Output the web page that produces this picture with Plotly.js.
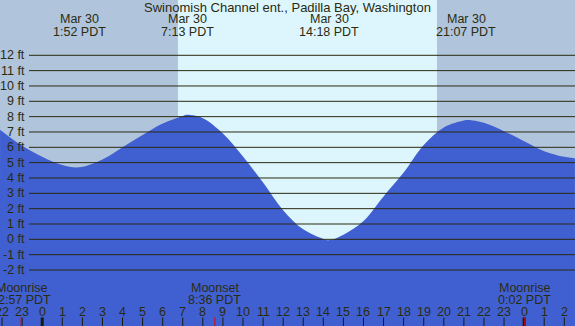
<!DOCTYPE html>
<html><head><meta charset="utf-8">
<script src="https://cdn.plot.ly/plotly-3.0.1.min.js"></script>
<style>html,body{margin:0;padding:0;background:#b0c4dc;}#chart{width:575px;height:326px;}</style>
</head><body><div id="chart"></div>
<script>
// ---- data ----
const stationTitle = "Swinomish Channel ent., Padilla Bay, Washington";
const tideHours = [-2.1, -1, 0, 1, 1.87, 3, 4, 5, 6, 7, 7.22, 8, 9, 10, 11, 12, 13, 14, 14.33, 15, 16, 17, 18, 19, 20, 21, 21.2, 22, 23, 24, 25, 26, 26.53];
const tideFeet  = [7.15, 6.1, 5.39, 4.85, 4.7, 5.2, 6.0, 6.8, 7.55, 8.05, 8.12, 7.9, 6.9, 5.4, 3.7, 1.9, 0.65, 0.03, -0.05, 0.3, 1.2, 2.8, 4.35, 6.15, 7.3, 7.75, 7.78, 7.6, 7.05, 6.4, 5.75, 5.38, 5.28];
const extremeHours = [1.867, 7.217, 14.3, 21.117, 26.583];
const extremeDates = ["Mar 30", "Mar 30", "Mar 30", "Mar 30", "Mar 31"];
const extremeTimes = ["1:52 PDT", "7:13 PDT", "14:18 PDT", "21:07 PDT", "2:35 PDT"];
const moonHours  = [-1.05, 8.6, 24.033];
const moonEvents = ["Moonrise", "Moonset", "Moonrise"];
const moonTimes  = ["22:57 PDT", "8:36 PDT", "0:02 PDT"];
const sunriseHour = 6.76;
const sunsetHour  = 19.66;
const feetLevels = [-2, -1, 0, 1, 2, 3, 4, 5, 6, 7, 8, 9, 10, 11, 12];
const hourTicks = [-2, -1, 0, 1, 2, 3, 4, 5, 6, 7, 8, 9, 10, 11, 12, 13, 14, 15, 16, 17, 18, 19, 20, 21, 22, 23, 24, 25, 26];

// ---- layout / style ----
const W = 575, H = 326;
const xRange = [-2.102, 26.534];
const yRange = [-5.651, 15.606];
const py = p => 1 - p / H;
const FONT = "Liberation Sans, Arial, sans-serif";
const TXT = "#2b2b10";
const NIGHT = "#b0c4dc", DAY = "#ddf6fd", WATER = "#4060d2", LINE = "#2a2a10";

const shapes = [];
const annotations = [];

shapes.push({type: "rect", xref: "x", yref: "paper", x0: sunriseHour, x1: sunsetHour, y0: 0, y1: 1,
  fillcolor: DAY, line: {width: 0}, layer: "below"});

feetLevels.forEach(f => {
  shapes.push({type: "line", xref: "paper", yref: "y", x0: 29 / W, x1: 1, y0: f, y1: f,
    line: {color: LINE, width: 1}, layer: "above"});
  annotations.push({xref: "paper", yref: "y", x: 27 / W, y: f, xanchor: "right", yanchor: "middle",
    text: f + " ft", showarrow: false, font: {family: FONT, size: 12.5, color: TXT}});
});

hourTicks.forEach(h => {
  const hod = ((h % 24) + 24) % 24;
  shapes.push({type: "line", xref: "x", yref: "paper", x0: h, x1: h, y0: 0, y1: 8.5 / H,
    line: {color: "#1a1a08", width: hod === 0 ? 3 : 1}, layer: "above"});
  annotations.push({xref: "x", yref: "paper", x: h, y: py(311.8), xanchor: "center", yanchor: "middle",
    text: String(hod), showarrow: false, font: {family: FONT, size: 12.5, color: TXT}});
});

moonHours.forEach((h, i) => {
  shapes.push({type: "line", xref: "x", yref: "paper", x0: h, x1: h, y0: 0, y1: 8.5 / H,
    line: {color: "#e00000", width: 1}, layer: "above"});
  annotations.push({xref: "x", yref: "paper", x: h, y: py(287.5), xanchor: "center", yanchor: "middle",
    text: moonEvents[i], showarrow: false, font: {family: FONT, size: 12.5, color: TXT}});
  annotations.push({xref: "x", yref: "paper", x: h, y: py(299.5), xanchor: "center", yanchor: "middle",
    text: moonTimes[i], showarrow: false, font: {family: FONT, size: 12.5, color: TXT}});
});

extremeHours.forEach((h, i) => {
  annotations.push({xref: "x", yref: "paper", x: h, y: py(19.5), xanchor: "center", yanchor: "middle",
    text: extremeDates[i], showarrow: false, font: {family: FONT, size: 12.5, color: TXT}});
  annotations.push({xref: "x", yref: "paper", x: h, y: py(31.8), xanchor: "center", yanchor: "middle",
    text: extremeTimes[i], showarrow: false, font: {family: FONT, size: 12.5, color: TXT}});
});

const traces = [
  {x: [xRange[0], xRange[1]], y: [yRange[0], yRange[0]], mode: "lines", line: {width: 0, color: WATER},
   hoverinfo: "skip", showlegend: false},
  {x: tideHours, y: tideFeet, mode: "lines", fill: "tonexty", fillcolor: WATER,
   line: {width: 0, color: WATER, shape: "spline", smoothing: 1}, hoverinfo: "skip", showlegend: false}
];

const layout = {
  width: W, height: H,
  margin: {l: 0, r: 0, t: 0, b: 0, pad: 0},
  paper_bgcolor: NIGHT, plot_bgcolor: NIGHT,
  title: {text: stationTitle, x: 0.5, xanchor: "center", y: py(7.6), yanchor: "middle", yref: "container",
    font: {family: FONT, size: 13, color: TXT}},
  xaxis: {range: xRange, visible: false, showgrid: false, zeroline: false, fixedrange: true},
  yaxis: {range: yRange, visible: false, showgrid: false, zeroline: false, fixedrange: true},
  shapes: shapes,
  annotations: annotations,
  showlegend: false
};

Plotly.newPlot("chart", traces, layout, {staticPlot: true, displayModeBar: false});
</script>
</body></html>
